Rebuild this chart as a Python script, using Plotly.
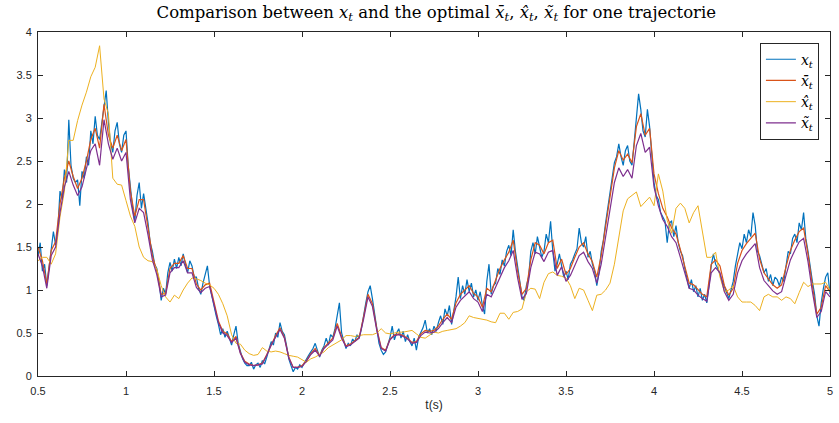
import plotly.graph_objects as go

# time grids
t_coarse = [round(0.5 + 0.025 * i, 4) for i in range(181)]
t_fine = [round(0.5 + 0.0125 * i, 4) for i in range(361)]

# x_t (true state, noisy) sampled every 0.0125 s
x_true = [
    1.40, 1.55, 1.22, 1.30, 1.05, 1.25, 1.48, 1.68,
    1.52, 1.70, 2.15, 2.05, 2.40, 2.25, 2.98, 2.45,
    2.30, 2.25, 2.28, 1.98, 2.38, 2.30, 2.55, 2.45,
    2.85, 2.70, 3.02, 2.80, 2.75, 2.95, 3.10, 3.32,
    2.95, 2.70, 2.60, 2.85, 2.95, 2.70, 2.60, 2.80,
    2.85, 2.45, 2.20, 1.95, 1.80, 2.10, 2.25, 1.95,
    2.12, 1.95, 1.78, 1.55, 1.45, 1.30, 1.25, 1.10,
    0.88, 1.02, 0.95, 1.20, 1.32, 1.22, 1.36, 1.25,
    1.38, 1.28, 1.42, 1.30, 1.20, 1.34, 1.28, 1.15,
    1.15, 1.02, 0.95, 1.08, 1.18, 1.28, 1.05, 0.92,
    0.82, 0.70, 0.60, 0.48, 0.55, 0.45, 0.52, 0.44,
    0.36, 0.48, 0.58, 0.38, 0.28, 0.20, 0.15, 0.12,
    0.12, 0.16, 0.08, 0.13, 0.15, 0.10, 0.18, 0.14,
    0.22, 0.30, 0.40, 0.36, 0.50, 0.45, 0.62, 0.52,
    0.48, 0.35, 0.20, 0.12, 0.05, 0.10, 0.08, 0.13,
    0.10, 0.15, 0.20, 0.24, 0.28, 0.32, 0.38, 0.30,
    0.22, 0.30, 0.35, 0.44, 0.36, 0.48, 0.45, 0.55,
    0.72, 0.85, 0.50, 0.42, 0.32, 0.38, 0.35, 0.43,
    0.40, 0.48, 0.44, 0.55, 0.72, 0.85, 0.98, 1.05,
    0.90, 0.72, 0.50, 0.38, 0.30, 0.25, 0.28, 0.36,
    0.45, 0.58, 0.42, 0.50, 0.55, 0.44, 0.52, 0.40,
    0.48, 0.40, 0.35, 0.44, 0.30, 0.45, 0.50, 0.56,
    0.65, 0.50, 0.55, 0.48, 0.58, 0.52, 0.62, 0.70,
    0.60, 0.78, 0.70, 0.82, 0.60, 0.75, 0.92, 1.15,
    0.90, 1.05, 0.95, 1.12, 0.98, 1.08, 0.92, 1.00,
    0.88, 0.98, 0.82, 0.72, 1.10, 1.30, 0.95, 1.05,
    1.08, 1.25, 1.18, 1.35, 1.28, 1.45, 1.52, 1.40,
    1.70, 1.45, 1.25, 1.10, 0.92, 0.88, 1.05, 1.15,
    1.45, 1.55, 1.42, 1.62, 1.50, 1.38, 1.45, 1.65,
    1.55, 1.80, 1.45, 1.22, 1.30, 1.42, 1.28, 1.15,
    1.22, 1.12, 1.30, 1.35, 1.42, 1.48, 1.72, 1.55,
    1.50, 1.62, 1.38, 1.45, 1.30, 1.22, 1.05, 1.20,
    1.45, 1.58, 1.78, 1.95, 2.12, 2.30, 2.48, 2.55,
    2.70, 2.55, 2.45, 2.62, 2.68, 2.50, 2.45, 2.72,
    2.98, 3.28, 3.10, 2.85, 2.78, 3.10, 2.90, 2.60,
    2.25, 2.10, 2.05, 1.90, 1.85, 1.80, 1.55, 1.78,
    1.80, 1.62, 1.75, 1.55, 1.45, 1.40, 1.25, 1.15,
    1.02, 1.12, 0.98, 1.05, 0.92, 1.02, 0.88, 0.95,
    0.85, 1.05, 1.28, 1.42, 1.30, 1.25, 1.18, 1.10,
    1.02, 0.95, 0.90, 1.00, 1.10, 1.28, 1.42, 1.55,
    1.48, 1.65, 1.55, 1.70, 1.62, 1.90, 1.75, 1.45,
    1.40, 1.28, 1.20, 1.25, 1.10, 1.18, 1.05, 1.15,
    1.12, 1.05, 1.15, 1.10, 1.30, 1.45, 1.42, 1.60,
    1.65, 1.55, 1.78, 1.70, 1.90, 1.60, 1.45, 1.25,
    1.10, 0.95, 0.70, 0.58, 0.85, 1.02, 1.15, 1.20,
    0.95,
]

# x-bar estimate, every 0.025 s
x_bar = [
    1.50, 1.34, 1.07, 1.46, 1.56, 2.00, 2.30, 2.50,
    2.32, 2.18, 2.30, 2.50, 2.75, 2.88, 2.65, 3.16,
    2.80, 2.65, 2.80, 2.62, 2.75, 2.15, 1.86, 2.05,
    2.05, 1.72, 1.40, 1.22, 0.95, 0.96, 1.25, 1.31,
    1.31, 1.40, 1.25, 1.25, 1.07, 1.00, 1.06, 1.08,
    0.86, 0.64, 0.52, 0.49, 0.40, 0.46, 0.27, 0.17,
    0.14, 0.12, 0.13, 0.15, 0.25, 0.37, 0.47, 0.56,
    0.45, 0.22, 0.10, 0.10, 0.12, 0.18, 0.26, 0.32,
    0.24, 0.33, 0.38, 0.44, 0.61, 0.46, 0.35, 0.37,
    0.41, 0.45, 0.69, 0.95, 0.84, 0.55, 0.33, 0.30,
    0.43, 0.48, 0.49, 0.47, 0.44, 0.39, 0.40, 0.49,
    0.53, 0.52, 0.53, 0.58, 0.66, 0.72, 0.66, 0.85,
    0.95, 1.00, 1.05, 0.96, 0.92, 0.80, 1.02, 0.98,
    1.12, 1.25, 1.35, 1.44, 1.58, 1.22, 0.95, 1.02,
    1.35, 1.55, 1.52, 1.42, 1.55, 1.58, 1.25, 1.36,
    1.18, 1.25, 1.38, 1.50, 1.55, 1.42, 1.33, 1.15,
    1.40, 1.75, 2.05, 2.42, 2.62, 2.51, 2.58, 2.48,
    2.90, 3.05, 2.80, 2.88, 2.35, 2.12, 1.95, 1.85,
    1.72, 1.65, 1.47, 1.28, 1.08, 1.06, 1.00, 0.95,
    0.92, 1.30, 1.35, 1.28, 1.05, 0.94, 1.02, 1.31,
    1.46, 1.54, 1.60, 1.66, 1.36, 1.20, 1.13, 1.06,
    1.02, 1.06, 1.27, 1.46, 1.58, 1.68, 1.72, 1.42,
    1.05, 0.72, 0.80, 1.05, 0.98,
]

# x-hat estimate, every 0.025 s
x_hat = [
    1.34, 1.38, 1.38, 1.30, 1.42, 1.85, 2.15, 2.74,
    2.74, 2.97, 3.15, 3.30, 3.48, 3.59, 3.84, 3.22,
    3.05, 2.30, 2.23, 2.22, 2.04, 1.86, 1.74, 1.50,
    1.38, 1.34, 1.33, 1.24, 1.05, 0.92, 0.86, 0.94,
    0.90, 1.00, 1.08, 1.14, 1.13, 1.11, 1.08, 1.06,
    1.02, 0.95, 0.84, 0.70, 0.48, 0.38, 0.37, 0.30,
    0.26, 0.24, 0.25, 0.33, 0.29, 0.28, 0.29, 0.28,
    0.26, 0.24, 0.23, 0.22, 0.19, 0.16, 0.20, 0.22,
    0.25, 0.28, 0.33, 0.36, 0.38, 0.42, 0.47, 0.47,
    0.46, 0.47, 0.48, 0.48, 0.48, 0.50, 0.55, 0.50,
    0.49, 0.50, 0.51, 0.51, 0.52, 0.53, 0.49, 0.45,
    0.44, 0.48, 0.51, 0.50, 0.52, 0.53, 0.54, 0.55,
    0.58, 0.62, 0.70, 0.68, 0.67, 0.66, 0.65, 0.63,
    0.62, 0.73, 0.73, 0.66, 0.74, 0.75, 0.78, 0.98,
    1.02, 1.01, 0.90, 1.09, 1.19, 1.21, 1.17, 1.16,
    1.14, 1.05, 0.90, 1.02, 1.00, 0.88, 0.76, 0.94,
    0.95, 1.00, 1.08, 1.30, 1.60, 1.92, 2.06, 2.10,
    2.14, 1.97, 2.02, 2.08, 1.98, 2.35, 2.15, 1.81,
    1.66, 1.95, 2.01, 1.95, 1.78, 1.90, 1.98, 1.68,
    1.38, 1.38, 1.44, 1.15, 0.98, 1.00, 1.05, 0.92,
    0.86, 0.86, 0.86, 0.82, 0.76, 0.92, 0.95, 0.92,
    0.92, 0.88, 0.92, 0.90, 0.84, 0.97, 1.09, 1.04,
    1.07, 1.07, 1.07, 1.09, 1.00,
]

# x-tilde estimate, every 0.025 s
x_tilde = [
    1.42, 1.28, 1.02, 1.40, 1.50, 1.90, 2.20, 2.38,
    2.22, 2.10, 2.20, 2.40, 2.62, 2.70, 2.45, 2.98,
    2.70, 2.52, 2.65, 2.50, 2.60, 2.05, 1.78, 1.95,
    1.90, 1.64, 1.35, 1.18, 0.92, 0.94, 1.20, 1.26,
    1.26, 1.34, 1.20, 1.20, 1.03, 0.97, 1.02, 1.04,
    0.84, 0.62, 0.50, 0.47, 0.39, 0.44, 0.26, 0.16,
    0.13, 0.12, 0.13, 0.14, 0.24, 0.36, 0.45, 0.54,
    0.44, 0.21, 0.10, 0.10, 0.11, 0.17, 0.25, 0.30,
    0.23, 0.32, 0.37, 0.42, 0.58, 0.44, 0.34, 0.36,
    0.40, 0.44, 0.66, 0.92, 0.81, 0.53, 0.32, 0.29,
    0.42, 0.47, 0.48, 0.46, 0.43, 0.38, 0.39, 0.47,
    0.51, 0.50, 0.51, 0.55, 0.62, 0.68, 0.62, 0.80,
    0.88, 0.93, 0.98, 0.90, 0.86, 0.75, 0.95, 0.92,
    1.04, 1.16, 1.26, 1.34, 1.46, 1.14, 0.89, 0.96,
    1.26, 1.44, 1.42, 1.33, 1.44, 1.46, 1.17, 1.27,
    1.10, 1.17, 1.29, 1.40, 1.44, 1.33, 1.25, 1.08,
    1.30, 1.62, 1.90, 2.25, 2.42, 2.32, 2.40, 2.30,
    2.68, 2.82, 2.60, 2.66, 2.20, 1.98, 1.82, 1.74,
    1.62, 1.55, 1.38, 1.20, 1.02, 1.00, 0.94, 0.90,
    0.87, 1.20, 1.26, 1.20, 0.98, 0.88, 0.95, 1.20,
    1.34, 1.42, 1.48, 1.54, 1.26, 1.11, 1.05, 0.99,
    0.95, 0.98, 1.17, 1.35, 1.46, 1.56, 1.60, 1.33,
    0.98, 0.68, 0.75, 0.98, 0.92,
]

x_ticks = [0.5, 1, 1.5, 2, 2.5, 3, 3.5, 4, 4.5, 5]
x_tick_text = ["0.5", "1", "1.5", "2", "2.5", "3", "3.5", "4", "4.5", "5"]
y_ticks = [0, 0.5, 1, 1.5, 2, 2.5, 3, 3.5, 4]
y_tick_text = ["0", "0.5", "1", "1.5", "2", "2.5", "3", "3.5", "4"]

names = ["<i>x</i><sub><i>t</i></sub>",
         "<i>x\u0304</i><sub><i>t</i></sub>",
         "<i>x\u0302</i><sub><i>t</i></sub>",
         "<i>x\u0303</i><sub><i>t</i></sub>"]
colors = ["#0072BD", "#D95319", "#EDB120", "#7E2F8E"]

fig = go.Figure()
fig.add_trace(go.Scatter(x=t_fine, y=x_true, mode="lines", name=names[0],
                         line=dict(color=colors[0], width=1.2)))
fig.add_trace(go.Scatter(x=t_coarse, y=x_bar, mode="lines", name=names[1],
                         line=dict(color=colors[1], width=1.2)))
fig.add_trace(go.Scatter(x=t_coarse, y=x_hat, mode="lines", name=names[2],
                         line=dict(color=colors[2], width=1)))
fig.add_trace(go.Scatter(x=t_coarse, y=x_tilde, mode="lines", name=names[3],
                         line=dict(color=colors[3], width=1.2)))

axis_col = "#262626"
title_text = ("Comparison between <i>x</i><sub><i>t</i></sub> and the optimal "
              "<i>x\u0304</i><sub><i>t</i></sub>, <i>x\u0302</i><sub><i>t</i></sub>, "
              "<i>x\u0303</i><sub><i>t</i></sub> for one trajectorie")

fig.update_layout(
    width=839, height=423,
    margin=dict(l=38, r=6, t=32, b=47),
    paper_bgcolor="white", plot_bgcolor="white",
    title=dict(text=title_text, x=0.52, xanchor="center", y=0.985, yanchor="top",
               font=dict(family="DejaVu Serif", size=16.5, color="black")),
    showlegend=True,
    legend=dict(x=0.986, y=0.969, xanchor="right", yanchor="top",
                bgcolor="white", bordercolor=axis_col, borderwidth=1,
                font=dict(family="DejaVu Serif", size=14, color="black"),
                tracegroupgap=0),
    xaxis=dict(range=[0.5, 5], tickvals=x_ticks, ticktext=x_tick_text,
               ticks="inside", ticklen=5, tickcolor=axis_col, mirror="ticks",
               showline=True, linecolor=axis_col, linewidth=1, showgrid=False,
               zeroline=False, ticklabelstandoff=5,
               tickfont=dict(family="Liberation Sans", size=11, color=axis_col),
               title=dict(text="t(s)", standoff=4,
                          font=dict(family="Liberation Sans", size=12, color=axis_col))),
    yaxis=dict(range=[0, 4], tickvals=y_ticks, ticktext=y_tick_text,
               ticks="inside", ticklen=5, tickcolor=axis_col, mirror="ticks",
               showline=True, linecolor=axis_col, linewidth=1, showgrid=False,
               zeroline=False, ticklabelstandoff=3,
               tickfont=dict(family="Liberation Sans", size=11, color=axis_col)),
)

fig.write_html("out.html")
